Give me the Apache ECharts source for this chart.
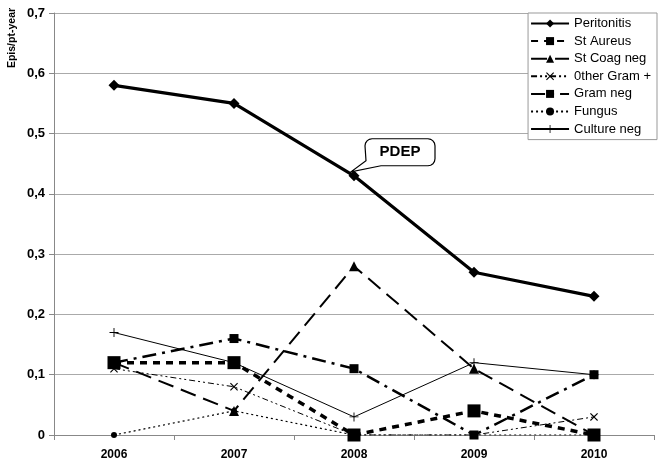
<!DOCTYPE html>
<html><head><meta charset="utf-8">
<script src="https://cdn.jsdelivr.net/npm/echarts@6/dist/echarts.min.js"></script>
<style>html,body{margin:0;padding:0;background:#fff}#c{width:665px;height:465px}</style>
</head><body><div id="c"></div>
<script>
var years = ['2006','2007','2008','2009','2010'];
var peritonitis = [0.58, 0.55, 0.43, 0.27, 0.23];
var stAureus = [0.12, 0.12, 0, 0.04, 0];
var stCoagNeg = [0.12, 0.04, 0.28, 0.11, 0];
var otherGramPos = [0.11, 0.08, 0, 0, 0.03];
var gramNeg = [0.12, 0.16, 0.11, 0, 0.10];
var fungus = [0, 0.04, 0, 0, 0];
var cultureNeg = [0.17, 0.12, 0.03, 0.12, 0.10];
var yTicks = [0, 0.1, 0.2, 0.3, 0.4, 0.5, 0.6, 0.7];
var yTitle = 'Epis/pt-year';
var annotationText = 'PDEP';

var xSym = 'path://M1,0L5,4L9,0L10,1L6,5L10,9L9,10L5,6L1,10L0,9L4,5L0,1Z';
var plusSym = 'path://M4.5,0H5.5V4.5H10V5.5H5.5V10H4.5V5.5H0V4.5H4.5Z';

function mk(name, data, lw, dash, sym, size) {
  return {
    name: name, type: 'line', data: data, symbol: sym, symbolSize: size,
    lineStyle: {color: '#000', width: lw, type: dash},
    itemStyle: {color: '#000'},
    emphasis: {disabled: true}, animation: false
  };
}

var chart = echarts.init(document.getElementById('c'));
var option = {
  animation: false,
  grid: {left: 54, right: 11, top: 13, bottom: 30, containLabel: false},
  legend: {
    orient: 'vertical', right: 8, top: 13, itemWidth: 38, itemHeight: 10, itemGap: 4.6,
    padding: [4, 6, 4, 2],
    backgroundColor: '#fff', borderColor: '#999', borderWidth: 1,
    textStyle: {fontFamily: 'Liberation Sans, Arial', fontSize: 13, color: '#000'},
    data: ['Peritonitis','St Aureus','St Coag neg','0ther Gram +','Gram neg','Fungus','Culture neg']
  },
  xAxis: {
    type: 'category', data: years, boundaryGap: true,
    axisLine: {lineStyle: {color: '#888', width: 1}},
    axisTick: {show: true, length: 5, lineStyle: {color: '#888'}},
    axisLabel: {fontFamily: 'Liberation Sans, Arial', fontWeight: 'bold', fontSize: 12, color: '#000', margin: 14}
  },
  yAxis: {
    type: 'value', min: yTicks[0], max: yTicks[yTicks.length-1], interval: 0.1,
    axisLine: {show: true, lineStyle: {color: '#888'}},
    axisTick: {show: true, length: 5, inside: false, lineStyle: {color: '#888'}},
    splitLine: {lineStyle: {color: '#aaa', width: 1}},
    axisLabel: {fontFamily: 'Liberation Sans, Arial', fontWeight: 'bold', fontSize: 13, color: '#000', margin: 9,
      formatter: function (v) { return v === 0 ? '0' : v.toFixed(1).replace('.', ','); }}
  },
  series: [
    mk('Peritonitis', peritonitis, 3.2, 'solid', 'diamond', 11),
    mk('St Aureus', stAureus, 3.5, [7, 6], 'rect', 13),
    mk('St Coag neg', stCoagNeg, 2, [16, 8], 'triangle', 10),
    mk('0ther Gram +', otherGramPos, 1, [6, 3, 2, 3, 2, 3], xSym, 8),
    mk('Gram neg', gramNeg, 2.5, [14, 6, 3, 6], 'rect', 9),
    mk('Fungus', fungus, 1.2, [2, 3], 'circle', 6),
    mk('Culture neg', cultureNeg, 1, 'solid', plusSym, 9)
  ]
};
chart.setOption(option);

var p = chart.convertToPixel({seriesIndex: 0}, [2, peritonitis[2]]);
var px = p[0], py = p[1];
var L = px + 11, R = px + 81, T = py - 37, B = py - 10, r = 7;
function corner(cx, cy, a0) {
  var pts = [];
  for (var i = 0; i <= 4; i++) {
    var a = a0 + i * Math.PI / 8;
    pts.push([cx + r * Math.cos(a), cy + r * Math.sin(a)]);
  }
  return pts;
}
var pts = [].concat(
  corner(R - r, T + r, -Math.PI / 2),
  corner(R - r, B - r, 0),
  [[px + 27, B], [px - 3, py - 4], [L + 1, B - 5]],
  corner(L + r, T + r, Math.PI)
);
chart.setOption({
  graphic: [
    {type: 'polygon', shape: {points: pts}, style: {fill: '#fff', stroke: '#000', lineWidth: 1.2}, z: 100},
    {type: 'text', x: (L + R) / 2, y: (T + B) / 2, z: 101,
     style: {text: annotationText, fill: '#000', font: 'bold 15px Liberation Sans, Arial', align: 'center', verticalAlign: 'middle'}},
    {type: 'text', x: 12, y: 38, rotation: Math.PI / 2, z: 101,
     style: {text: yTitle, fill: '#000', font: 'bold 10.5px Liberation Sans, Arial', align: 'center', verticalAlign: 'middle'}}
  ]
});
</script></body></html>
